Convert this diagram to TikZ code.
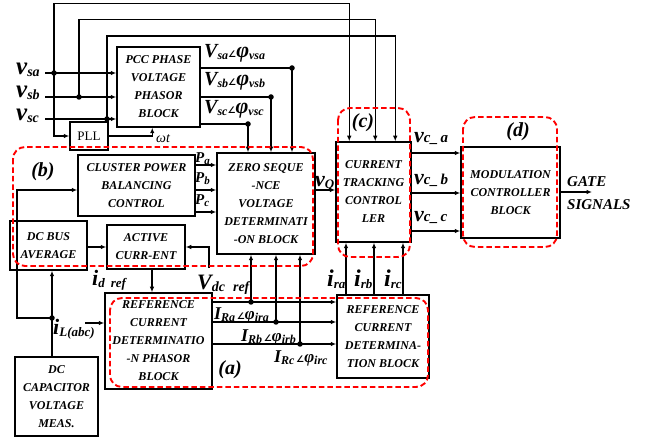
\documentclass[tikz,border=0pt]{standalone}
\usepackage{fontspec}
\setmainfont{Liberation Serif}
\newfontfamily\symfont{DejaVu Sans}
\usetikzlibrary{arrows.meta,calc}
\newcommand\fs[2]{{\fontsize{#1}{#1}\selectfont #2}}
\newcommand\sbs[2]{\raisebox{-2pt}{\fontsize{#1}{#1}\selectfont #2}}
\newcommand\ang{{\symfont\fontsize{9}{9}\selectfont ∠}}
\tikzset{
  blk/.style={draw, line width=1.5pt, inner sep=0pt, align=center,
    font=\bfseries\itshape\fontsize{12}{18}\selectfont},
  arr/.style={line width=1.35pt, -{Latex[length=5.5pt,width=4.5pt]}},
  ln/.style={line width=1.35pt},
  grp/.style={draw=red, line width=1.9pt, dash pattern=on 5.5pt off 3pt, rounded corners=12pt},
  dot/.style={circle, fill, inner sep=0pt, minimum size=5.5pt},
  lab/.style={inner sep=0pt, font=\bfseries\itshape},
}
\begin{document}
\begin{tikzpicture}[x=1pt,y=-1pt]
\useasboundingbox (0,0) rectangle (654,443);
% blocks
\node[blk, minimum width=83pt, minimum height=80pt] (pcc) at (158.5,87) {PCC PHASE\\VOLTAGE\\PHASOR\\BLOCK};
\node[blk, minimum width=38pt, minimum height=28pt, font=\normalfont\fontsize{13}{13}\selectfont] (pll) at (89,136) {PLL};
\node[blk, minimum width=117pt, minimum height=61pt] (cpb) at (136.5,185.5) {CLUSTER POWER\\BALANCING\\CONTROL};
\node[blk, minimum width=98pt, minimum height=101pt] (zsv) at (266,203.5) {ZERO SEQUE\\-NCE\\VOLTAGE\\DETERMINATI\\-ON BLOCK};
\node[blk, minimum width=77pt, minimum height=49pt] (dcb) at (48.5,245.5) {DC BUS\\AVERAGE};
\node[blk, minimum width=78pt, minimum height=44pt] (act) at (146,247) {ACTIVE\\CURR-ENT};
\node[blk, minimum width=107pt, minimum height=96pt] (rcp) at (158.5,341) {REFERENCE\\CURRENT\\DETERMINATIO\\-N PHASOR\\BLOCK};
\node[blk, minimum width=92pt, minimum height=83pt] (rcd) at (383,336.5) {REFERENCE\\CURRENT\\DETERMINA-\\TION BLOCK};
\node[blk, minimum width=75pt, minimum height=100pt] (ctc) at (373.5,192) {CURRENT\\TRACKING\\CONTROL\\LER};
\node[blk, minimum width=99pt, minimum height=91pt] (mcb) at (510.5,192.5) {MODULATION\\CONTROLLER\\BLOCK};
\node[blk, minimum width=83pt, minimum height=79pt] (dcc) at (56.5,396.5) {DC\\CAPACITOR\\VOLTAGE\\MEAS.};
% coordinates
\coordinate (vsa) at (45,73); \coordinate (vsb) at (45,97); \coordinate (vsc) at (45,119);
\coordinate (dsa) at (54,73); \coordinate (dsb) at (79,97); \coordinate (dsc) at (107,119);
\coordinate (ya) at (0,3.5); \coordinate (yb) at (0,19.5); \coordinate (yc) at (0,36);
\coordinate (ca) at ([xshift=14pt]ctc.north west);
\coordinate (cb) at ([xshift=40pt]ctc.north west);
\coordinate (cc) at ([xshift=60pt]ctc.north west);
\coordinate (oa) at (292,68); \coordinate (ob) at (271,97); \coordinate (oc) at (248,124);
\coordinate (dil) at (52,318); \coordinate (lft) at (17,318); \coordinate (cpin) at (0,190);
\coordinate (il) at (85,323); \coordinate (vdc) at (209,268);
\coordinate (ra) at (251,302); \coordinate (rb) at (276,322); \coordinate (rc) at (300,344);
\coordinate (ia) at (346,0); \coordinate (ib) at (374,0); \coordinate (ic) at (403,0);
\coordinate (yq) at (0,190);
\coordinate (yca) at (0,153); \coordinate (ycb) at (0,193); \coordinate (ycc) at (0,231);
\coordinate (ypa) at (0,165); \coordinate (ypb) at (0,190); \coordinate (ypc) at (0,212);
\coordinate (gate) at (592,192);
% input lines
\draw[arr] (vsa) -- (vsa -| pcc.west);
\draw[arr] (vsb) -- (vsb -| pcc.west);
\draw[arr] (vsc) -- (vsc -| pcc.west);
\draw[arr] (dsa) -- (dsa |- ya) -| (ca);
\draw[arr] (dsb) -- (dsb |- yb) -| (cb);
\draw[arr] (dsc) -- (dsc |- yc) -| (cc);
\draw[arr] (dsa) |- (pll.west);
\draw[arr] (pll.east) -| ([xshift=36pt]pcc.south west);
% pcc outputs
\draw[ln] (pcc.east |- oa) -- (oa); \draw[arr] (oa) -- (oa |- zsv.north);
\draw[ln] (pcc.east |- ob) -- (ob); \draw[arr] (ob) -- (ob |- zsv.north);
\draw[ln] (pcc.east |- oc) -- (oc); \draw[arr] (oc) -- (oc |- zsv.north);
% P
\draw[arr] (cpb.east |- ypa) -- (zsv.west |- ypa);
\draw[arr] (cpb.east |- ypb) -- (zsv.west |- ypb);
\draw[arr] (cpb.east |- ypc) -- (zsv.west |- ypc);
% left side
\draw[arr] (dcc.north -| dil) -- (dcb.south -| dil);
\draw[arr] (dil) -- (lft) |- (cpb.west |- cpin);
\draw[arr] (il) -- (il -| rcp.west);
\draw[arr] (dcb.east |- act.west) -- (act.west);
\draw[arr] (vdc) |- (act.east);
\draw[arr] ([xshift=6pt]act.south) -- ([xshift=6pt]act.south |- rcp.north);
% reference currents
\foreach \p in {ra,rb,rc}{
  \draw[arr] (rcp.east |- \p) -- (rcd.west |- \p);
  \draw[arr] (\p) -- (\p |- zsv.south);
}
\foreach \p in {ia,ib,ic}{
  \draw[arr] (rcd.north -| \p) -- (ctc.south -| \p);
}
\draw[arr] (zsv.east |- yq) -- (ctc.west |- yq);
\foreach \p in {yca,ycb,ycc}{
  \draw[arr] (ctc.east |- \p) -- (mcb.west |- \p);
}
\draw[arr] (mcb.east |- gate) -- (gate);
% dots
\foreach \p in {dsa,dsb,dsc,oa,ob,oc,dil,ra,rb,rc}{ \node[dot] (d\p) at (\p) {}; }
% groups
\draw[grp] (13,147) rectangle (313,266);
\draw[grp] (338,108) rectangle (410,257);
\draw[grp] (463,117) rectangle (557,247);
\draw[grp] (110,298) rectangle (428,387);
% labels
\node[lab, anchor=base west] (lvsa) at (16,75) {\fs{25}{v}\sbs{14}{sa}};
\node[lab, anchor=base west] (lvsb) at (16,98) {\fs{25}{v}\sbs{14}{sb}};
\node[lab, anchor=base west] (lvsc) at (16,121) {\fs{25}{v}\sbs{14}{sc}};
\node[lab, anchor=base west] (lVa) at (204,58) {\fs{20}{V}\sbs{12}{sa}\ang\fs{22}{φ}\sbs{12}{vsa}};
\node[lab, anchor=base west] (lVb) at (204,86) {\fs{20}{V}\sbs{12}{sb}\ang\fs{22}{φ}\sbs{12}{vsb}};
\node[lab, anchor=base west] (lVc) at (204,114) {\fs{20}{V}\sbs{12}{sc}\ang\fs{22}{φ}\sbs{12}{vsc}};
\node[inner sep=0pt, anchor=base west, font=\itshape\fontsize{14}{14}\selectfont] (lwt) at (156,143) {ωt};
\node[lab, anchor=base west] (lPa) at (195,163) {\fs{15}{P}\sbs{11}{a}};
\node[lab, anchor=base west] (lPb) at (195,183) {\fs{15}{P}\sbs{11}{b}};
\node[lab, anchor=base west] (lPc) at (195,205) {\fs{15}{P}\sbs{11}{c}};
\node[lab] (lb) at (43,172) {\fs{20}{(b)}};
\node[lab] (lc) at (363,123) {\fs{20}{(c)}};
\node[lab] (ld) at (518,132) {\fs{20}{(d)}};
\node[lab] (la) at (230,370) {\fs{20}{(a)}};
\node[lab, anchor=base west] (lid) at (92,286) {\fs{22}{i}\sbs{13}{d\hspace{6pt}ref}};
\node[lab, anchor=base west] (lvdc) at (197,290) {\fs{22}{V}\sbs{14}{dc\hspace{8pt}ref}};
\node[lab, anchor=base west] (lil) at (53,335) {\fs{22}{i}\sbs{13}{L(abc)}};
\node[lab, anchor=base west] (lIa) at (214,320) {\fs{18}{I}\sbs{12}{Ra}\,\ang\fs{17}{φ}\sbs{12}{ira}};
\node[lab, anchor=base west] (lIb) at (241,342) {\fs{18}{I}\sbs{12}{Rb}\,\ang\fs{17}{φ}\sbs{12}{irb}};
\node[lab, anchor=base west] (lIc) at (274,363) {\fs{18}{I}\sbs{12}{Rc}\,\ang\fs{17}{φ}\sbs{12}{irc}};
\node[lab, anchor=base west] (lira) at (327,287) {\fs{24}{i}\sbs{13}{ra}};
\node[lab, anchor=base west] (lirb) at (354,287) {\fs{24}{i}\sbs{13}{rb}};
\node[lab, anchor=base west] (lirc) at (384,287) {\fs{24}{i}\sbs{13}{rc}};
\node[lab, anchor=base west] (lvq) at (315,187) {\fs{22}{v}\sbs{13}{Q}};
\node[lab, anchor=base west] (lvca) at (414,143) {\fs{22}{v}\fs{15}{c\_\,a}};
\node[lab, anchor=base west] (lvcb) at (414,185) {\fs{22}{v}\fs{15}{c\_\,b}};
\node[lab, anchor=base west] (lvcc) at (414,222) {\fs{22}{v}\fs{15}{c\_\,c}};
\node[lab, anchor=base west] (lgate) at (567,187) {\fs{15}{GATE}};
\node[lab, anchor=base west] (lsig) at (567,210) {\fs{15}{SIGNALS}};
\end{tikzpicture}
\end{document}
